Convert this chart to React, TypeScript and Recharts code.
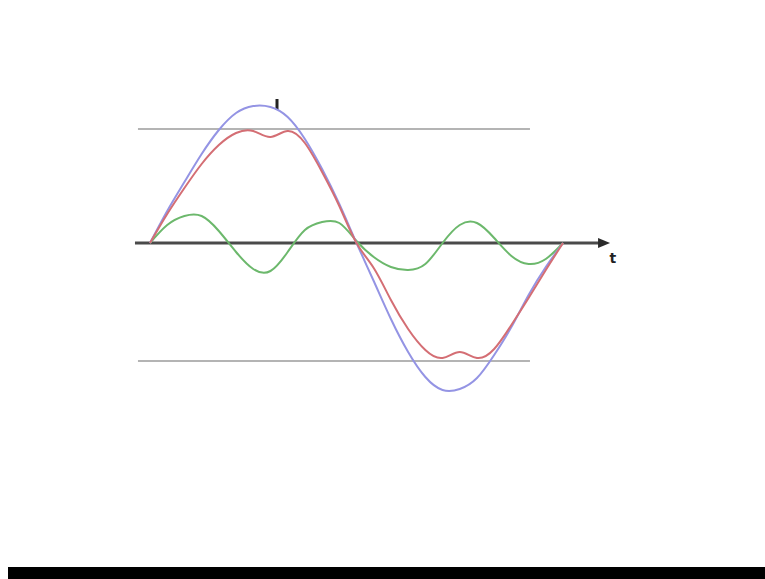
import React from "react";
import { LineChart, Line, XAxis, YAxis, ReferenceLine, ReferenceDot } from "recharts";

// phase angle in degrees
const angles = [0, 15, 30, 45, 60, 75, 90, 105, 120, 135, 150, 165, 180, 195, 210, 225, 240, 255, 270, 285, 300, 315, 330, 345, 360];
// fundamental (blue)
const fundamental = [0, 32, 61, 89, 113, 130, 137, 136, 126, 104, 74, 39, 0, -38, -76, -109, -134, -147, -146, -135, -112, -84, -52, -24, 0];
// third harmonic (green)
const harmonic3 = [0, 18, 27, 27, 12, -9, -26, -28, -9, 13, 21, 20, 2, -14, -24, -27, -21, 0, 18, 20, 5, -13, -21, -16, 0];
// resulting sum (red)
const resultant = [0, 29, 55, 79, 98, 110, 112, 106, 112, 100, 71, 37, 0, -25, -57, -86, -107, -115, -109, -115, -106, -82, -55, -27, 0];

// clip levels (gray lines)
const clipLevels = [114, -118];
const clipSpan = [-10.5, 331.2];
const axisSpan = [-13.1, 394.9];
const arrowTip = [398.4];
const markerX = [110.7];
const markerSpan = [133, 144];
const axisLabel = ["t"];
const axisLabelPos = [403.5, -15];

const data = angles.map((a, i) => ({
  angle: a,
  fundamental: fundamental[i],
  harmonic3: harmonic3[i],
  resultant: resultant[i],
}));

const Arrow = (props: any) => {
  const { cx, cy } = props;
  if (cx == null || cy == null) return null;
  return (
    <polygon
      points={`${cx - 9},${cy - 5} ${cx + 3},${cy} ${cx - 9},${cy + 5}`}
      fill="#2a2a2a"
    />
  );
};

export default function App() {
  return (
    <div style={{ position: "absolute", left: 0, top: 0, width: 765, height: 579, background: "#ffffff" }}>
      <LineChart
        width={765}
        height={579}
        data={data}
        margin={{ top: 0, right: 0, bottom: 0, left: 0 }}
      >
        <XAxis dataKey="angle" type="number" domain={[-130.75, 536.07]} hide allowDataOverflow />
        <YAxis type="number" domain={[-336, 243]} hide allowDataOverflow />
        {clipLevels.map((lv, i) => (
          <ReferenceLine
            key={"clip" + i}
            segment={[{ x: clipSpan[0], y: lv }, { x: clipSpan[1], y: lv }]}
            stroke="#b4b4b4"
            strokeWidth={2}
            ifOverflow="visible"
          />
        ))}
        <ReferenceLine
          segment={[{ x: axisSpan[0], y: 0 }, { x: axisSpan[1], y: 0 }]}
          stroke="#4a4a4a"
          strokeWidth={3}
          ifOverflow="visible"
        />
        <ReferenceDot x={arrowTip[0]} y={0} r={6} shape={Arrow} ifOverflow="visible" />
        <ReferenceLine
          segment={[{ x: markerX[0], y: markerSpan[0] }, { x: markerX[0], y: markerSpan[1] }]}
          stroke="#222"
          strokeWidth={3}
          ifOverflow="visible"
        />
        <ReferenceDot
          x={axisLabelPos[0]}
          y={axisLabelPos[1]}
          r={0}
          fill="none"
          stroke="none"
          ifOverflow="visible"
          label={{ value: axisLabel[0], position: "center", fill: "#222", fontSize: 14, fontWeight: "bold", fontFamily: "DejaVu Sans" }}
        />
        <Line
          dataKey="harmonic3"
          type="natural"
          stroke="#6cb86c"
          strokeWidth={2}
          dot={false}
          activeDot={false}
          isAnimationActive={false}
        />
        <Line
          dataKey="fundamental"
          type="natural"
          stroke="#9494e4"
          strokeWidth={2}
          dot={false}
          activeDot={false}
          isAnimationActive={false}
        />
        <Line
          dataKey="resultant"
          type="natural"
          stroke="#d46e74"
          strokeWidth={2}
          dot={false}
          activeDot={false}
          isAnimationActive={false}
        />
      </LineChart>
      <div style={{ position: "absolute", left: 8, top: 567, width: 757, height: 12, background: "#000" }} />
    </div>
  );
}
